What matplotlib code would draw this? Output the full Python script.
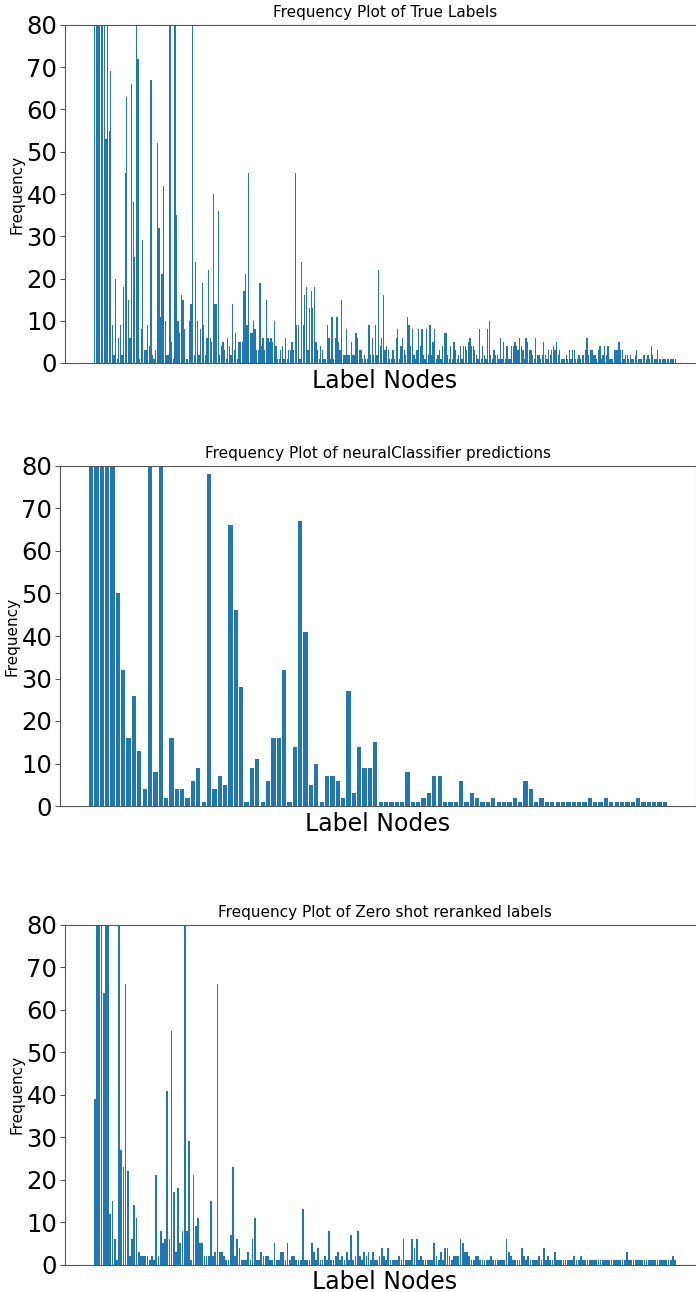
import matplotlib.pyplot as plt

# bar heights (values > 80 are clipped by ylim)
true_counts = [
    120, 210, 160, 95, 140, 180, 110, 53, 130, 55, 69, 9, 2, 20, 1, 6, 9, 2, 18, 45,
    63, 15, 6, 66, 38, 25, 150, 72, 1, 8, 29, 3, 3, 9, 4, 67, 2, 1, 3, 52,
    32, 11, 21, 42, 10, 2, 2, 100, 5, 1, 90, 35, 10, 7, 16, 15, 8, 1, 1, 10,
    14, 85, 2, 24, 10, 2, 8, 19, 9, 2, 6, 22, 6, 5, 40, 14, 14, 36, 2, 4,
    5, 3, 1, 6, 4, 2, 14, 3, 7,
    1, 5, 5, 5, 17, 21, 9, 45, 7, 7, 10, 8, 3, 3, 19, 4, 6, 3, 15, 6,
    5, 6, 5, 10, 4, 1, 1, 3, 4, 1, 6, 1, 3, 3, 5, 3, 45, 9, 9, 1,
    24, 9, 16, 18, 3, 13, 17, 13, 18, 5, 3, 1, 4, 3, 1, 1, 9, 6, 1, 11,
    1, 6, 11, 5, 3, 15, 2, 2, 8, 2, 2, 5, 2, 2, 7, 6, 3, 3, 1, 2,
    1, 1, 9, 2, 6, 2, 9, 2, 22, 4, 6, 16, 3, 4, 3, 1,
    1, 3, 1, 6, 8, 1, 4, 6, 3, 2, 11, 9, 4, 8, 2, 1, 3, 8, 4, 8,
    2, 1, 8, 2, 9, 2, 5, 8, 1, 2, 3, 1, 4, 7, 7, 2, 1, 4, 1, 5,
    3, 1, 2, 4, 1, 4, 4, 3, 5, 6, 4, 4, 3, 2, 1, 8, 1, 4, 2, 1,
    8, 10, 2, 1, 3, 2, 2, 1, 6, 1, 5, 1, 4, 1, 1, 4, 4, 5, 4, 3,
    6, 4, 3, 1, 6, 5, 3, 3, 2, 1,
    6, 2, 2, 1, 2, 5, 2, 1, 3, 2, 3, 4, 3, 5, 2, 3, 1, 1, 1, 2,
    1, 3, 1, 3, 3, 1, 1, 2, 1, 2, 2, 3, 6, 2, 3, 3, 2, 2, 1, 3,
    4, 1, 2, 4, 2, 4, 1, 1, 1, 3, 3, 3, 5, 3, 3, 1, 2, 2, 1, 2,
    1, 1, 2, 3, 1, 1, 1, 2, 2, 1, 2, 1, 4, 2, 1, 1, 3, 1, 1, 1,
    1, 1, 1, 1, 1, 1, 1, 1,
]

neural_counts = [
    150, 230, 120, 180, 95, 50, 32, 16, 26, 13, 4, 110, 8, 140, 2, 16, 4, 4, 2, 6,
    9, 1, 78, 4, 7, 5, 66, 46, 28, 1, 9, 11, 1, 6, 16, 16, 32, 1, 14, 67,
    41, 5, 10, 1, 7, 7, 6, 2, 27, 3, 14, 9, 9, 15,
    1, 1, 1, 1, 1, 8, 1, 1, 2, 3, 7, 7, 1, 1, 1, 6, 1, 3, 2, 1,
    1, 2, 1, 1, 1, 2, 1, 6, 4, 1, 2, 1, 1, 1, 1, 1, 1, 1, 1, 2,
    1, 1, 2, 1, 1, 1, 1, 1, 2, 1, 1, 1, 1, 1,
]

zeroshot_counts = [
    39, 160, 120, 95, 64, 140, 110, 12, 15, 6, 1, 200, 27, 23, 66, 22, 2, 6, 14, 11,
    3, 2, 2, 2, 2, 1, 2, 1, 21, 2, 8, 5, 6, 41, 6, 55, 17, 3, 18, 5,
    8, 180, 8, 29, 1, 21, 9, 11, 5, 5, 2, 2, 2, 15, 2, 3, 66, 3, 3, 2,
    1, 1, 7,
    23, 2, 6, 4, 1, 1, 1, 3, 1, 6, 11, 1, 1, 3, 2, 2, 2, 1, 1, 5,
    1, 1, 3, 3, 1, 5, 1, 2, 2, 1, 1, 1, 13, 1, 1, 1, 5, 3, 1, 4,
    1, 1, 2, 1, 8, 1, 1, 2, 3, 1, 2, 1, 3, 1, 7, 1, 2, 8, 2, 1,
    3, 2, 3, 1, 3, 1, 1, 2,
    4, 2, 1, 4, 1, 1, 1, 1, 2, 1, 6, 1, 1, 1, 6, 4, 6, 1, 2, 1,
    1, 1, 1, 1, 5, 2, 1, 3, 1, 4, 4, 2, 1, 2, 2, 2, 6, 5, 3, 3,
    2, 1, 1, 2, 2, 1, 1, 1, 1, 1, 2, 1, 1, 1, 1, 1, 1, 6, 3, 2,
    1, 1, 1, 1, 4, 2, 1, 2, 1,
    1, 1, 1, 2, 1, 4, 1, 2, 1, 1, 3, 1, 1, 1, 1, 1, 1, 1, 1, 2,
    1, 1, 2, 1, 1, 1, 1, 1, 1, 1, 1, 1, 1, 1, 1, 1, 1, 1, 1, 1,
    1, 1, 1, 3, 1, 1, 1, 1, 1, 1, 1, 1, 1, 1, 1, 1, 1, 1, 1, 1,
    1, 1, 1, 1, 2, 1,
]

titles = [
    "Frequency Plot of True Labels",
    "Frequency Plot of neuralClassifier predictions",
    "Frequency Plot of Zero shot reranked labels",
]
y_ticks = [0, 10, 20, 30, 40, 50, 60, 70, 80]

W, H = 696, 1292
# axes boxes in pixels: left, top, width, height (right side runs off the canvas)
boxes = [(65, 25, 640, 338), (60, 466, 636, 340), (65, 925, 640, 339.5)]

fig = plt.figure(figsize=(W / 100, H / 100), dpi=100)

for counts, title, (l, t, w, h) in zip([true_counts, neural_counts, zeroshot_counts], titles, boxes):
    ax = fig.add_axes([l / W, 1 - (t + h) / H, w / W, h / H])
    ax.bar(range(len(counts)), counts, color='#1f77b4')
    ax.set_ylim(0, 80)
    ax.set_yticks(y_ticks)
    ax.set_xticks([])
    ax.tick_params(axis='y', labelsize=17.5, pad=2, color='#555555')
    for sp in ax.spines.values():
        sp.set_color('#555555')
    ax.set_title(title, fontsize=11)
    ax.set_xlabel('Label Nodes', fontsize=17)
    ax.set_ylabel('Frequency', fontsize=11, labelpad=1)

fig.savefig("out.png", dpi=100)
